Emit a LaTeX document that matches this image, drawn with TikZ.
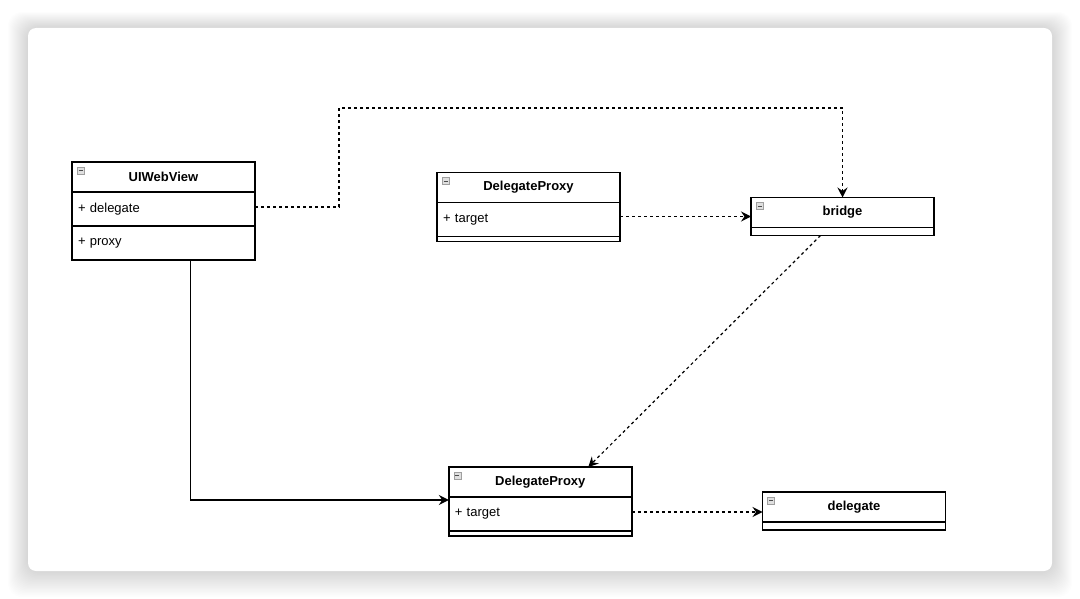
\documentclass[tikz,border=0pt]{standalone}
\usepackage{fontspec}
\setmainfont{Liberation Sans}
\usetikzlibrary{calc,arrows.meta,positioning}

\begin{document}
\begin{tikzpicture}[x=1pt,y=-1pt,inner sep=0pt,outer sep=0pt]
      % Styles
      \tikzset{classhead/.style={draw,line width=1.4pt,minimum width=183pt,minimum height=30pt,font=\bfseries\fontsize{13}{15}\selectfont},
               classrow/.style={draw,line width=1.4pt,minimum width=183pt,minimum height=34pt,text width=171pt,align=left,font=\fontsize{13}{15}\selectfont},
               classfoot/.style={draw,line width=1.4pt,minimum width=183pt,minimum height=#1},
               classfoot/.default=5pt,
               minusicon/.style={draw=gray!75,fill=gray!25,line width=0.5pt,minimum size=7pt,
                 path picture={\draw[gray!60!black,line width=0.9pt] ([xshift=1.5pt]path picture bounding box.west) -- ([xshift=-1.5pt]path picture bounding box.east);}},
               tip/.style={-{Stealth[length=10pt,width=10pt,inset=3.5pt]}},
               link/.style={tip,line width=1.2pt,dash pattern=on 3pt off 3pt},
               solidlink/.style={tip,line width=1.2pt}}

      % Page, shadow and card
      \useasboundingbox (0,0) rectangle (1080,599);
      \fill[white] (0,0) rectangle (1080,599);
      \foreach \i in {1,...,20}
        \fill[black,opacity=0.008,rounded corners=14pt] ($(28,28)+(-\i,-0.8*\i)$) rectangle ($(1052,571)+(\i,1.3*\i)$);
      \fill[white,rounded corners=8pt] (28,28) rectangle (1052,571);

      % UIWebView
      \node[classhead] (webview) at (163.5,177) {UIWebView};
      \node[classrow,below=0pt of webview] (webview-delegate) {+ delegate};
      \node[classrow,below=0pt of webview-delegate] (webview-proxy) {+ proxy};
      \node[minusicon] (webview-icon) at ($(webview.north west)+(8.5,8.5)$) {};

      % DelegateProxy (top)
      \node[classhead] (proxytop) at (528.5,187.5) {DelegateProxy};
      \node[classrow,below=0pt of proxytop] (proxytop-target) {+ target};
      \node[classfoot,below=0pt of proxytop-target] (proxytop-foot) {};
      \node[minusicon] (proxytop-icon) at ($(proxytop.north west)+(8.5,8.5)$) {};

      % bridge
      \node[classhead] (bridge) at (842.5,212.5) {bridge};
      \node[classfoot=8pt,below=0pt of bridge] (bridge-foot) {};
      \node[minusicon] (bridge-icon) at ($(bridge.north west)+(8.5,8.5)$) {};

      % DelegateProxy (bottom)
      \node[classhead] (proxybot) at (540.3,482) {DelegateProxy};
      \node[classrow,below=0pt of proxybot] (proxybot-target) {+ target};
      \node[classfoot,below=0pt of proxybot-target] (proxybot-foot) {};
      \node[minusicon] (proxybot-icon) at ($(proxybot.north west)+(8.5,8.5)$) {};

      % delegate
      \node[classhead] (delegate) at (854,507) {delegate};
      \node[classfoot=8pt,below=0pt of delegate] (delegate-foot) {};
      \node[minusicon] (delegate-icon) at ($(delegate.north west)+(8.5,8.5)$) {};

      % Connectors
      \coordinate (bend) at (339,108);
      \draw[link] ([yshift=2pt]webview-delegate.east) -| (bend) -| (bridge.north);
      \draw[link] ([yshift=3pt]proxytop-target.east) -- ([yshift=3pt]proxytop-target.east -| bridge.west);
      \draw[link] ([xshift=-22pt]bridge-foot.south) -- ([xshift=48pt]proxybot.north);
      \draw[solidlink] ([xshift=27pt]webview-proxy.south) |- ([yshift=-3pt]proxybot-target.north west);
      \draw[link] ([yshift=2pt]proxybot-target.east) -- ([yshift=2pt]proxybot-target.east -| delegate.west);
    \end{tikzpicture}
\end{document}
